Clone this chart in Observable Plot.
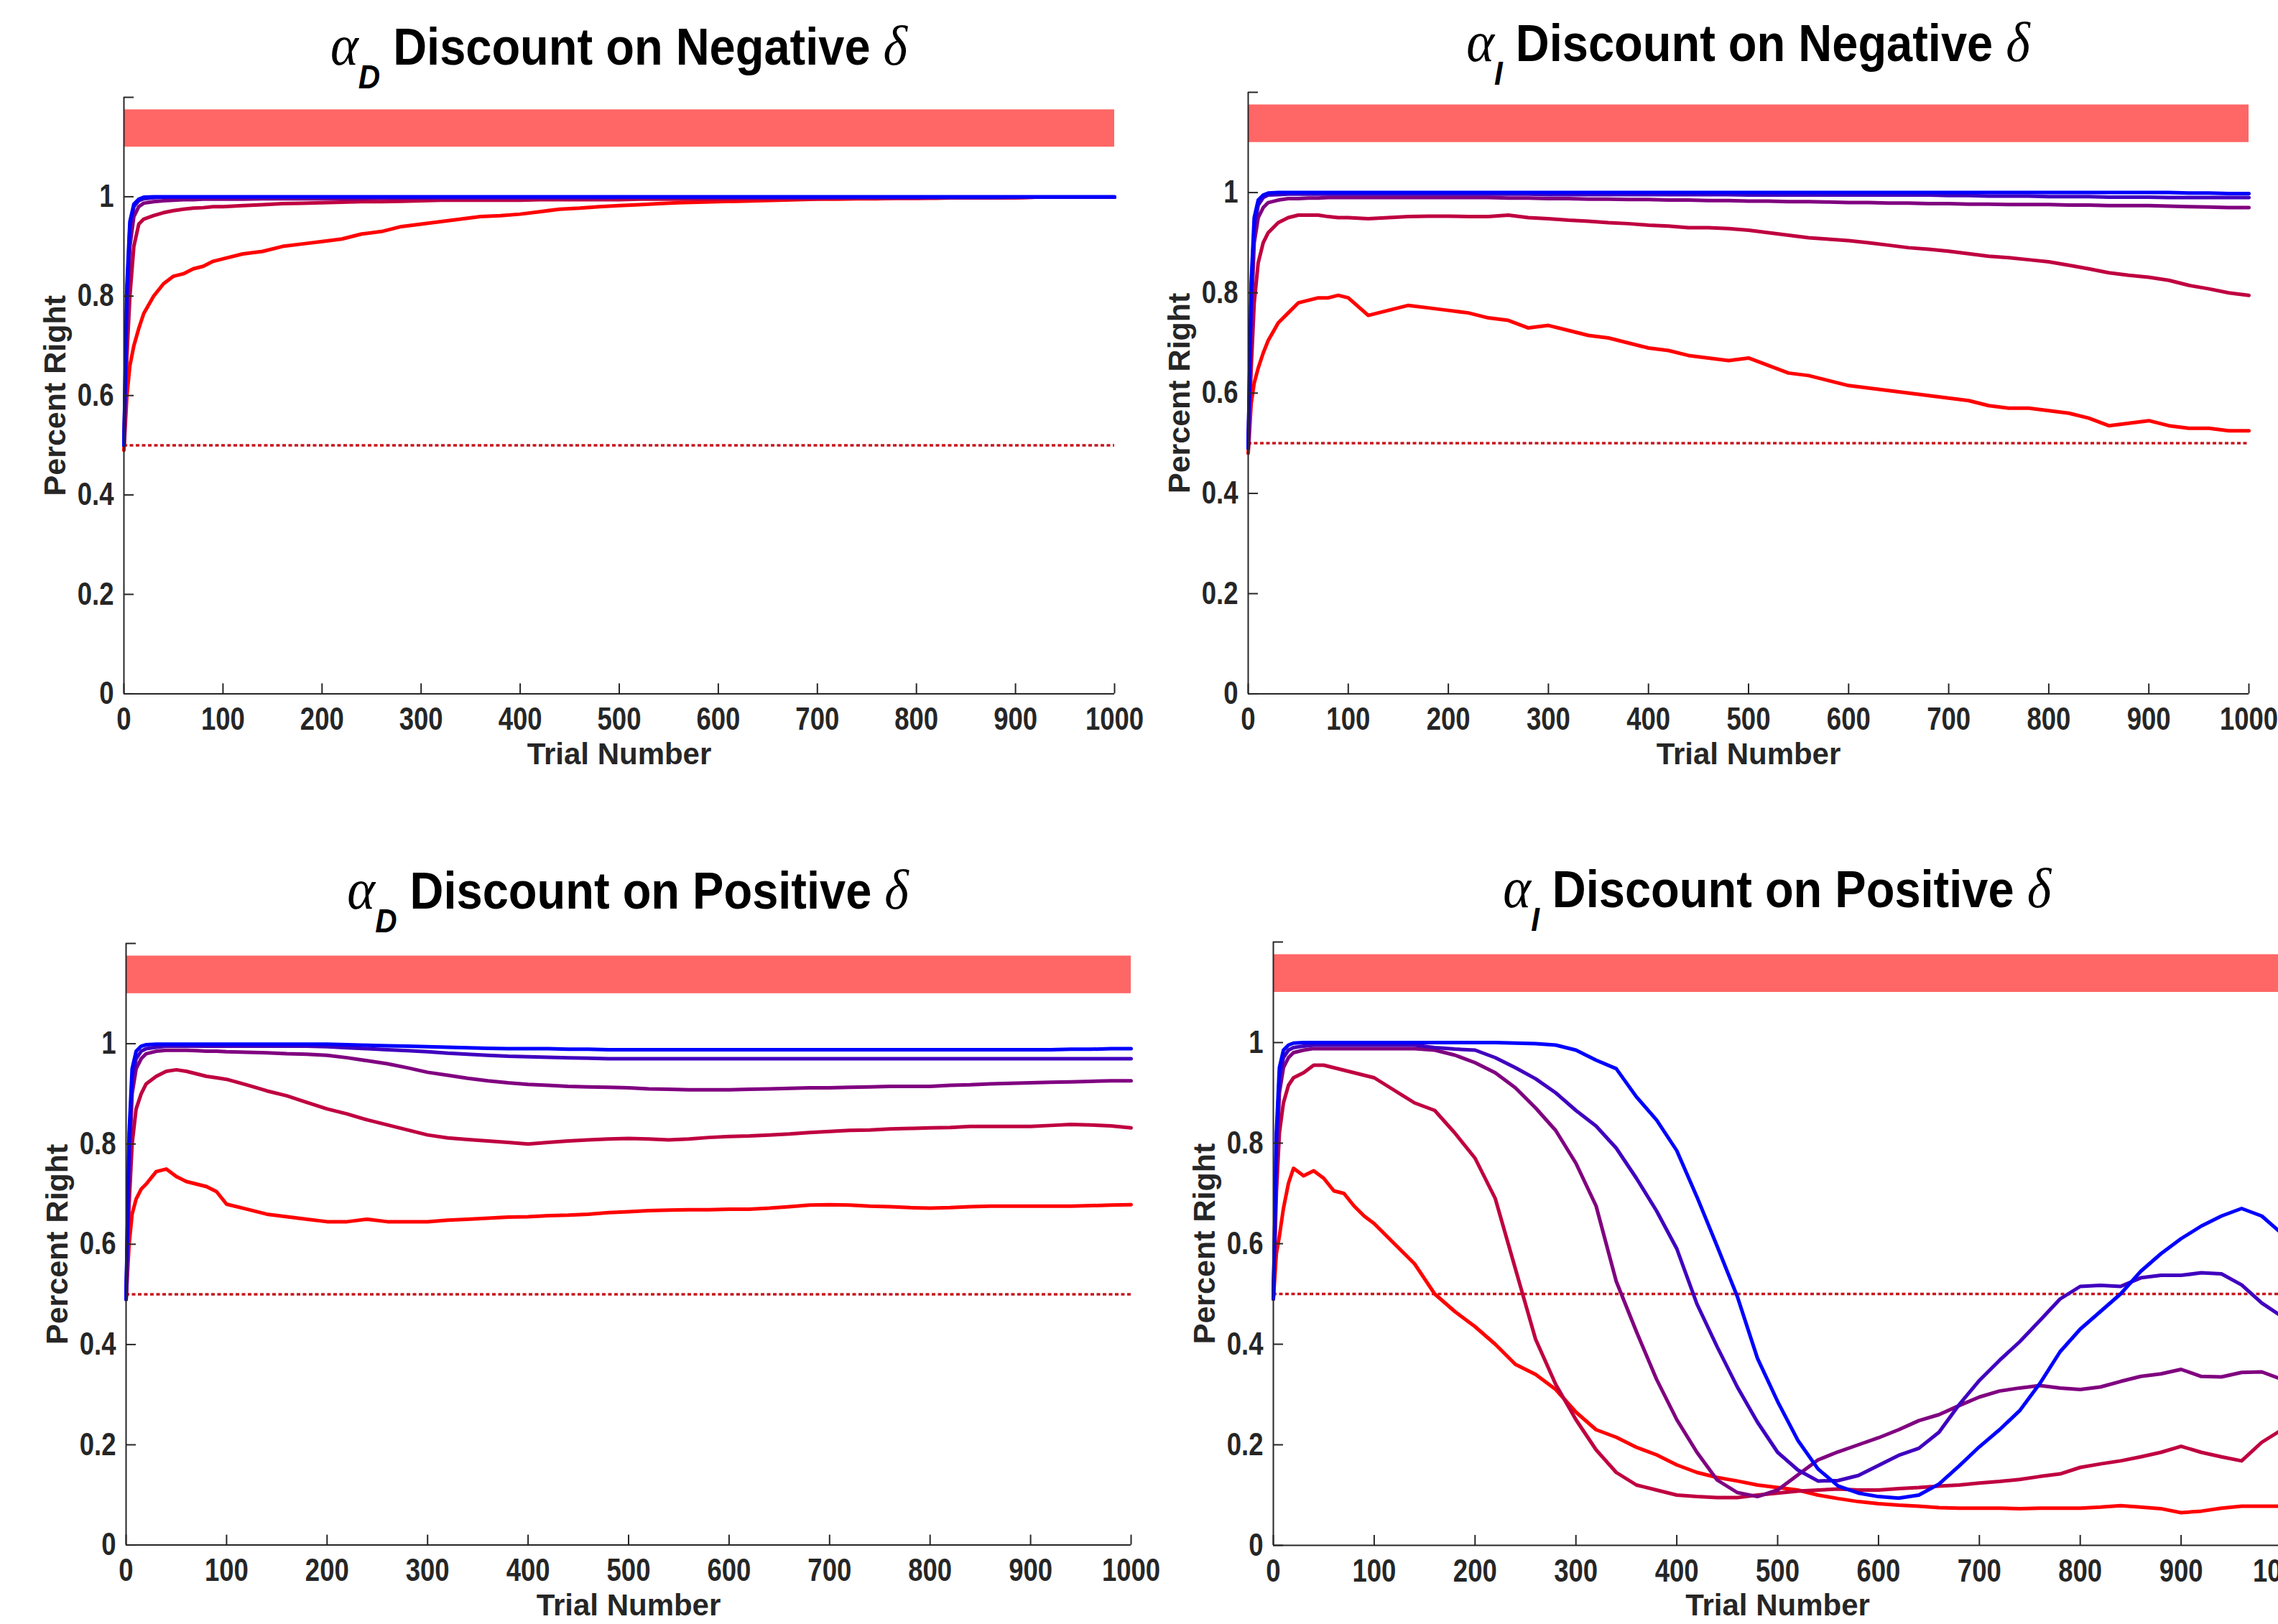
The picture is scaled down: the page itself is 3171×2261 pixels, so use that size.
<!DOCTYPE html>
<html>
<head>
<meta charset="utf-8">
<script src="https://cdn.jsdelivr.net/npm/d3@7"></script>
<script src="https://cdn.jsdelivr.net/npm/@observablehq/plot@0.6"></script>
<style>
  html, body { margin: 0; padding: 0; background: #ffffff; }
  body { width: 3171px; height: 2261px; overflow: hidden; position: relative; }
  .panel { position: absolute; }
  #titles { position: absolute; left: 0; top: 0; pointer-events: none; }
</style>
</head>
<body>
<div id="root"></div>
<script>
// ---------- shared data ----------
const trials = [0,3,6,10,15,20,30,40,50,60,70,80,90,
  100,120,140,160,180,200,220,240,260,280,
  300,320,340,360,380,400,420,440,460,480,
  500,520,540,560,580,600,620,640,660,680,
  700,720,740,760,780,800,820,840,860,880,
  900,920,940,960,980,1000];
const seriesNames = ["s1","s2","s3","s4","s5"];
const seriesColors = ["#ff0000","#bf0040","#800080","#4000bf","#0000ff"];
const xTicks = [0,100,200,300,400,500,600,700,800,900,1000];
const yTicks = [0,0.2,0.4,0.6,0.8,1,1.2];
const yTickLabels = ["0","0.2","0.4","0.6","0.8","1",""];
const barBand = [{x1: 0, x2: 1000, y1: 1.1, y2: 1.175}];
const chanceLevel = [0.5];
const titleMain = ["Discount on Negative","Discount on Negative","Discount on Positive","Discount on Positive"];
const titleSub = ["D","I","D","I"];
const xLabel = "Trial Number";
const yLabel = "Percent Right";

// ---------- panel 1: alpha_D, negative delta ----------
const tlRed = [.49,.60,.66,.70,.735,.765,.80,.825,.84,.845,.855,.86,.87,
  .875,.885,.89,.90,.905,.91,.915,.925,.93,.94,
  .945,.95,.955,.96,.962,.965,.97,.975,.977,.98,
  .982,.984,.986,.988,.989,.99,.991,.992,.993,.994,
  .995,.995,.996,.996,.997,.997,.997,.998,.998,.998,
  .998,.999,.999,.999,.999,.999];
const tlCrimson = [.50,.68,.80,.90,.945,.955,.962,.968,.972,.975,.977,.978,.98,
  .98,.982,.984,.986,.987,.988,.989,.99,.99,.991,
  .992,.993,.993,.993,.993,.993,.994,.994,.994,.994,
  .994,.995,.995,.995,.995,.995,.996,.996,.996,.996,
  .996,.997,.997,.997,.997,.997,.998,.998,.998,.998,
  .998,.999,.999,.999,.999,.999];
const tlPurple = [.50,.75,.90,.96,.98,.987,.99,.992,.993,.994,.994,.995,.995,
  .995,.995,.996,.996,.996,.996,.996,.996,.997,.997,
  .997,.997,.997,.997,.997,.997,.997,.997,.997,.997,
  .998,.998,.998,.998,.998,.998,.998,.998,.998,.998,
  .998,.998,.998,.998,.998,.998,.998,.998,.998,.998,
  .999,.999,.999,.999,.999,.999];
const tlIndigo = [.50,.80,.94,.98,.992,.996,.998,.999,.999,.999,.999,.999,.999,
  .999,.999,.999,.999,.999,.999,.999,.999,.999,.999,
  .999,.999,.999,.999,.999,.999,.999,.999,.999,.999,
  .999,.999,.999,.999,.999,.999,.999,.999,.999,.999,
  .999,.999,.999,.999,.999,.999,.999,.999,.999,.999,
  .999,.999,.999,.999,.999,.999];
const tlBlue = [.50,.82,.95,.985,.995,.999,1,1,1,1,1,1,1,
  1,1,1,1,1,1,1,1,1,1,
  1,1,1,1,1,1,1,1,1,1,
  1,1,1,1,1,1,1,1,1,1,
  1,1,1,1,1,1,1,1,1,1,
  1,1,1,1,1,1];

// ---------- panel 2: alpha_I, negative delta ----------
const trRed = [.48,.58,.62,.65,.68,.705,.74,.76,.78,.785,.79,.79,.795,
  .79,.755,.765,.775,.77,.765,.76,.75,.745,.73,
  .735,.725,.715,.71,.70,.69,.685,.675,.67,.665,
  .67,.655,.64,.635,.625,.615,.61,.605,.60,.595,
  .59,.585,.575,.57,.57,.565,.56,.55,.535,.54,
  .545,.535,.53,.53,.525,.525];
const trCrimson = [.49,.65,.78,.86,.90,.92,.94,.95,.955,.955,.955,.952,.95,
  .95,.948,.95,.952,.953,.953,.952,.952,.955,.95,
  .948,.945,.943,.94,.938,.935,.933,.93,.93,.928,
  .925,.92,.915,.91,.907,.904,.90,.895,.89,.887,
  .883,.878,.873,.87,.866,.862,.855,.848,.84,.835,
  .831,.825,.815,.808,.80,.795];
const trPurple = [.49,.75,.90,.95,.97,.98,.985,.988,.988,.989,.989,.99,.99,
  .99,.99,.99,.99,.99,.99,.99,.99,.989,.989,
  .988,.988,.987,.987,.986,.986,.985,.985,.984,.984,
  .983,.983,.982,.982,.981,.98,.98,.979,.979,.978,
  .978,.977,.977,.976,.976,.976,.975,.975,.974,.974,
  .974,.973,.972,.971,.97,.97];
const trIndigo = [.49,.80,.93,.975,.99,.995,.996,.997,.997,.997,.997,.997,.997,
  .997,.997,.997,.997,.997,.997,.997,.997,.997,.997,
  .996,.996,.996,.996,.996,.996,.996,.996,.996,.996,
  .995,.995,.995,.995,.995,.995,.995,.995,.995,.995,
  .994,.994,.993,.993,.993,.992,.992,.992,.991,.991,
  .991,.99,.99,.99,.99,.99];
const trBlue = [.49,.82,.95,.985,.995,.999,1,1,1,1,1,1,1,
  1,1,1,1,1,1,1,1,1,1,
  1,1,1,1,1,1,1,1,1,1,
  1,1,1,1,1,1,1,1,1,1,
  1,1,1,1,1,1,1,1,1,1,
  1,1,.999,.999,.998,.998];

// ---------- panel 3: alpha_D, positive delta ----------
const blRed = [.49,.60,.66,.69,.71,.72,.745,.75,.735,.725,.72,.715,.705,
  .68,.67,.66,.655,.65,.645,.645,.65,.645,.645,
  .645,.648,.65,.652,.654,.655,.657,.658,.66,.663,
  .665,.667,.668,.669,.669,.67,.67,.672,.675,.678,
  .679,.678,.676,.675,.673,.672,.673,.675,.676,.676,
  .676,.676,.676,.677,.678,.679];
const blCrimson = [.49,.68,.80,.87,.90,.92,.935,.945,.948,.945,.94,.935,.932,
  .929,.918,.906,.896,.883,.87,.86,.848,.838,.828,
  .818,.812,.809,.806,.803,.80,.803,.806,.808,.81,
  .811,.81,.808,.81,.813,.815,.816,.818,.82,.823,
  .825,.827,.828,.83,.831,.832,.833,.835,.835,.835,
  .835,.837,.839,.838,.836,.832];
const blPurple = [.49,.75,.90,.95,.97,.98,.985,.987,.987,.987,.986,.985,.985,
  .984,.983,.982,.98,.979,.977,.972,.966,.96,.952,
  .943,.937,.931,.926,.922,.919,.917,.915,.914,.913,
  .912,.91,.909,.908,.908,.908,.909,.91,.911,.912,
  .912,.913,.914,.915,.915,.915,.917,.918,.92,.921,
  .922,.923,.924,.925,.926,.926];
const blIndigo = [.49,.80,.93,.97,.985,.99,.993,.995,.995,.995,.995,.995,.995,
  .995,.995,.995,.995,.995,.994,.992,.99,.988,.986,
  .984,.981,.979,.977,.975,.974,.973,.972,.971,.97,
  .97,.97,.97,.97,.97,.97,.97,.97,.97,.97,
  .97,.97,.97,.97,.97,.97,.97,.97,.97,.97,
  .97,.97,.97,.97,.97,.97];
const blBlue = [.49,.82,.95,.985,.995,.998,.999,.999,.999,.999,.999,.999,.999,
  .999,.999,.999,.999,.999,.999,.998,.997,.996,.995,
  .994,.993,.992,.991,.99,.99,.99,.989,.989,.988,
  .988,.988,.988,.988,.988,.988,.988,.988,.988,.988,
  .988,.988,.988,.988,.988,.988,.988,.988,.988,.988,
  .988,.988,.989,.989,.99,.99];

// ---------- panel 4: alpha_I, positive delta ----------
const brRed = [.49,.58,.615,.67,.72,.75,.735,.745,.73,.705,.70,.675,.655,
  .64,.60,.56,.50,.465,.435,.40,.36,.34,.31,
  .265,.23,.215,.195,.18,.16,.145,.135,.128,.12,
  .115,.11,.10,.093,.087,.083,.08,.078,.075,.074,
  .074,.074,.073,.074,.074,.074,.076,.079,.076,.073,
  .065,.068,.074,.078,.078,.078];
const brCrimson = [.49,.70,.82,.88,.915,.93,.94,.955,.955,.95,.945,.94,.935,
  .93,.905,.88,.865,.82,.77,.69,.55,.41,.32,
  .25,.19,.145,.12,.11,.10,.097,.095,.095,.10,
  .104,.108,.11,.112,.11,.11,.113,.115,.118,.12,
  .124,.127,.131,.137,.142,.155,.162,.168,.176,.185,
  .197,.185,.176,.168,.205,.23];
const brPurple = [.49,.75,.90,.95,.97,.98,.985,.988,.988,.988,.988,.988,.988,
  .988,.988,.988,.985,.975,.96,.94,.91,.87,.825,
  .76,.675,.525,.425,.33,.25,.185,.13,.105,.097,
  .11,.14,.17,.186,.20,.214,.23,.248,.26,.278,
  .295,.307,.313,.318,.313,.31,.315,.326,.336,.341,
  .35,.336,.335,.344,.345,.33];
const brIndigo = [.49,.80,.93,.97,.985,.99,.993,.995,.995,.995,.995,.995,.995,
  .995,.995,.995,.99,.987,.985,.97,.95,.928,.90,
  .865,.834,.79,.73,.665,.59,.48,.395,.315,.245,
  .185,.15,.128,.129,.139,.159,.179,.193,.225,.28,
  .328,.368,.405,.447,.49,.515,.517,.515,.532,.537,
  .537,.542,.54,.518,.482,.455];
const brBlue = [.49,.82,.95,.985,.995,.999,1,1,1,1,1,1,1,
  1,1,1,1,1,1,1,.999,.998,.995,
  .985,.965,.948,.892,.846,.785,.693,.595,.495,.372,
  .286,.209,.152,.118,.104,.097,.094,.10,.122,.158,
  .196,.23,.268,.322,.385,.43,.465,.50,.545,.58,
  .61,.635,.655,.67,.655,.62];

// ---------- layout (pixel frame of each panel) ----------
const panels = [
  {series: [tlRed, tlCrimson, tlPurple, tlIndigo, tlBlue], L: 172,   R: 1551,   T: 134.6,  B: 965,    titleY: 90},
  {series: [trRed, trCrimson, trPurple, trIndigo, trBlue], L: 1737,  R: 3130,   T: 128.4,  B: 966,    titleY: 85},
  {series: [blRed, blCrimson, blPurple, blIndigo, blBlue], L: 174.6, R: 1573.6, T: 1313.4, B: 2151,   titleY: 1265},
  {series: [brRed, brCrimson, brPurple, brIndigo, brBlue], L: 1771.7,R: 3175.7, T: 1310.5, B: 2150.5, titleY: 1263}
];

const root = document.getElementById("root");
const axisColor = "#262626";
const sansFont = "'Liberation Sans', Arial, Helvetica, sans-serif";
const serifFont = "'Liberation Serif', 'Times New Roman', serif";
const mL = 172, mR = 60, mT = 60, mB = 140;

panels.forEach((p, pi) => {
  const rows = [];
  p.series.forEach((vals, k) => vals.forEach((v, i) => rows.push({t: trials[i], v, s: seriesNames[k]})));
  const w = (p.R - p.L) + mL + mR;
  const h = (p.B - p.T) + mT + mB;
  const chart = Plot.plot({
    width: w, height: h,
    marginLeft: mL, marginRight: mR, marginTop: mT, marginBottom: mB,
    x: {domain: [0, 1000]},
    y: {domain: [0, 1.2]},
    color: {domain: seriesNames, range: seriesColors},
    style: {fontFamily: sansFont, color: axisColor, background: "transparent", maxWidth: "none", overflow: "visible"},
    marks: [
      Plot.rect(barBand, {x1: "x1", x2: "x2", y1: "y1", y2: "y2", fill: "#ff6666"}),
      Plot.ruleY(chanceLevel, {stroke: "#c8141c", strokeWidth: 3.5, strokeDasharray: "5,3.5"}),
      Plot.line(rows, {x: "t", y: "v", z: "s", stroke: "s", strokeWidth: 5, strokeLinejoin: "round", strokeLinecap: "round"}),
      Plot.ruleX([0], {stroke: axisColor, strokeWidth: 2}),
      Plot.ruleY([0], {stroke: axisColor, strokeWidth: 2}),
      Plot.axisX({ticks: xTicks, tickSize: -14, tickPadding: 33, tickFormat: d => String(d), label: null,
        fontSize: 44, fontWeight: "bold", strokeWidth: 2}),
      Plot.axisY({ticks: yTicks, tickSize: -14, tickPadding: 28, tickFormat: d => yTickLabels[yTicks.indexOf(d)], label: null,
        fontSize: 44, fontWeight: "bold", strokeWidth: 2}),
      Plot.text([xLabel], {frameAnchor: "bottom", lineAnchor: "top", textAnchor: "middle", dy: 68, fontSize: 42, fontWeight: "bold", fill: axisColor}),
      Plot.text([yLabel], {frameAnchor: "left", rotate: -90, lineAnchor: "top", textAnchor: "middle", dx: -112, fontSize: 43, fontWeight: "bold", fill: axisColor})
    ]
  });
  // condensed look of the tick labels (narrow face)
  d3.select(chart).selectAll('[aria-label="x-axis tick label"] text, [aria-label="y-axis tick label"] text')
    .each(function() {
      const tr = this.getAttribute("transform") || "";
      this.setAttribute("transform", tr + " scale(0.83,1)");
    });
  const div = document.createElement("div");
  div.className = "panel";
  div.style.left = (p.L - mL) + "px";
  div.style.top = (p.T - mT) + "px";
  div.style.width = w + "px";
  div.style.height = h + "px";
  div.appendChild(chart);
  root.appendChild(div);
});

// ---------- titles ----------
const tsvg = d3.select("body").append("svg").attr("id", "titles")
  .attr("width", 3171).attr("height", 2261);
panels.forEach((p, pi) => {
  const cx = (p.L + p.R) / 2;
  const t = tsvg.append("text").attr("x", 0).attr("y", 0)
    .attr("transform", `translate(${cx},${p.titleY}) scale(1,1.1)`)
    .attr("text-anchor", "middle").attr("fill", "#000").style("white-space", "pre");
  t.append("tspan").attr("font-family", serifFont)
    .attr("font-style", "italic").attr("font-size", 74).text("α");
  t.append("tspan").attr("font-family", sansFont).attr("font-weight", "bold").attr("font-style", "italic")
    .attr("font-size", 42).attr("dy", 30).text(titleSub[pi]);
  t.append("tspan").attr("font-family", sansFont).attr("font-weight", "bold")
    .attr("font-size", 65).attr("dy", -30).text(" " + titleMain[pi] + " ");
  t.append("tspan").attr("font-family", serifFont)
    .attr("font-style", "italic").attr("font-size", 72).text("δ");
});
</script>
</body>
</html>
